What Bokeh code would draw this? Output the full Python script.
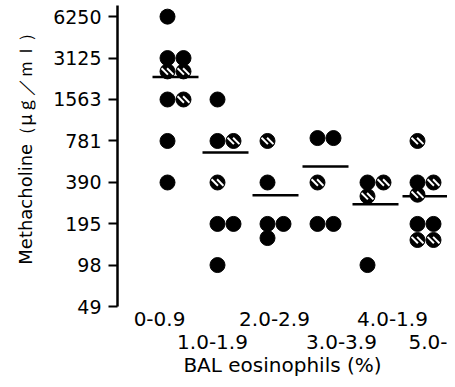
from bokeh.plotting import figure
from bokeh.models import Range1d, FixedTicker, LinearAxis, PrintfTickFormatter
from bokeh.embed import file_html
from bokeh.resources import INLINE

# ---- data ----
categories = ["0-0.9", "1.0-1.9", "2.0-2.9", "3.0-3.9", "4.0-1.9", "5.0-"]
y_ticks = [49, 98, 195, 390, 781, 1563, 3125, 6250]

# filled (solid) points: group index, column, methacholine value
filled_group = [0, 0, 0, 0, 0, 0, 1, 1, 1, 1, 1, 2, 2, 2, 2, 3, 3, 3, 3, 4, 4, 5, 5, 5]
filled_col = ["L", "L", "R", "L", "L", "L", "L", "L", "L", "R", "L", "L", "L", "R", "L",
              "L", "R", "L", "R", "L", "L", "L", "L", "R"]
filled_val = [6250, 3125, 3125, 1563, 781, 390, 1563, 781, 195, 195, 98, 390, 195, 195, 154,
              820, 820, 195, 195, 390, 98, 390, 195, 195]

# hatched points
hatched_group = [0, 0, 0, 1, 1, 2, 3, 4, 4, 5, 5, 5, 5, 5]
hatched_col = ["L", "R", "R", "R", "L", "L", "L", "R", "L", "L", "R", "L", "L", "R"]
hatched_val = [2500, 2500, 1563, 781, 390, 781, 390, 390, 310, 781, 390, 318, 149, 149]

# group mean lines
mean_val = [2280, 644, 315, 510, 271, 310]

x_title = "BAL eosinophils (%)"
y_title = "Methacholine（μｇ／ｍｌ）"

# ---- layout helpers (styling, not data) ----
col_offset = {"L": -0.16, "R": 0.16}
label_pos = [0.68, 1.74, 2.98, 4.32, 5.34, 6.08]
half_w = 0.46
stripe_dx = 0.055

fx = [g + 1 + col_offset[c] for g, c in zip(filled_group, filled_col)]
hx = [g + 1 + col_offset[c] for g, c in zip(hatched_group, hatched_col)]
gx = [i + 1 for i in range(len(categories))]

p = figure(width=447, height=379, output_backend="svg", toolbar_location=None,
           y_axis_type="log",
           x_range=Range1d(-0.16, 6.44), y_range=Range1d(49, 7530))
p.min_border = 0
p.min_border_left = 117
p.min_border_right = 0
p.min_border_top = 5
p.min_border_bottom = 71
p.outline_line_color = None
p.xgrid.visible = False
p.ygrid.visible = False
p.background_fill_color = "white"
p.border_fill_color = "white"

# mean lines
p.segment(x0=[x - half_w for x in gx], x1=[x + half_w for x in gx],
          y0=mean_val, y1=mean_val, line_color="black", line_width=2.5)

# filled points
p.scatter(x=fx, y=filled_val, size=15, marker="circle",
          fill_color="black", line_color="black")

# hatched points: black disc with two white diagonal stripes
p.scatter(x=hx, y=hatched_val, size=15, marker="circle",
          fill_color="black", line_color="black")
for d in (-stripe_dx, stripe_dx):
    p.scatter(x=[x + d for x in hx], y=hatched_val, size=9, marker="dash",
              angle=-0.785, line_color="white", line_width=2)

# y axis
ya = p.yaxis[0]
ya.ticker = FixedTicker(ticks=y_ticks, minor_ticks=[])
ya.formatter = PrintfTickFormatter(format="%d")
ya.axis_line_width = 2.5
ya.axis_line_color = "black"
ya.major_tick_in = 0
ya.major_tick_out = 9
ya.major_tick_line_width = 2
ya.minor_tick_line_color = None
ya.major_label_text_font = "DejaVu Sans"
ya.major_label_text_font_size = "19px"
ya.major_label_text_color = "black"
ya.major_label_standoff = 7
ya.axis_label = "\u00a0" * 4 + y_title
ya.axis_label_text_font = "DejaVu Sans"
ya.axis_label_text_font_size = "18px"
ya.axis_label_text_font_style = "normal"
ya.axis_label_text_color = "black"
ya.axis_label_standoff = 14

# x axes: two staggered rows of labels
xa1 = p.xaxis[0]
odd = [label_pos[i] for i in range(0, 6, 2)]
even = [label_pos[i] for i in range(1, 6, 2)]
xa1.ticker = FixedTicker(ticks=odd, minor_ticks=[])
xa1.major_label_overrides = {label_pos[i]: categories[i] for i in range(0, 6, 2)}
xa2 = LinearAxis(ticker=FixedTicker(ticks=even, minor_ticks=[]))
xa2.major_label_overrides = {label_pos[i]: categories[i] for i in range(1, 6, 2)}
p.add_layout(xa2, "below")

for ax, standoff in ((xa1, 5), (xa2, 6)):
    ax.axis_line_color = None
    ax.major_tick_line_color = None
    ax.minor_tick_line_color = None
    ax.major_tick_in = 0
    ax.major_tick_out = 0
    ax.major_label_standoff = standoff
    ax.major_label_text_font = "DejaVu Sans"
    ax.major_label_text_font_size = "20px"
    ax.major_label_text_color = "black"

xa2.axis_label = x_title
xa2.axis_label_text_font = "DejaVu Sans"
xa2.axis_label_text_font_size = "20px"
xa2.axis_label_text_font_style = "normal"
xa2.axis_label_text_color = "black"
xa2.axis_label_standoff = 1

open("out.html", "w").write(file_html(p, INLINE))
